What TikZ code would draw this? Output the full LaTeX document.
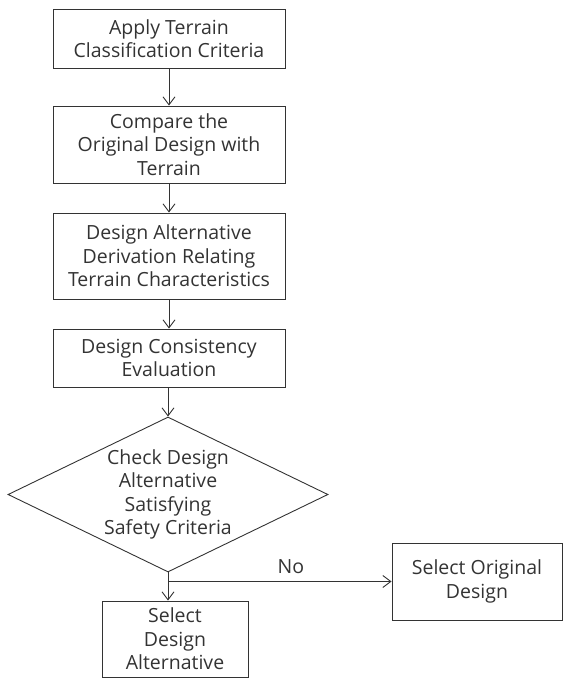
\documentclass[tikz,border=0pt]{standalone}
\usepackage{fontspec}
\setmainfont{Open Sans}
\usetikzlibrary{positioning,shapes,arrows.meta}

\begin{document}
\begin{tikzpicture}
		[x=1pt, y=-1pt, font=\fontsize{19.5}{23.5}\selectfont,
		procbox/.style={rectangle, draw=black!80, line width=0.9pt,
			align=center, inner sep=0pt, text=black!80, minimum width=232pt},
		decision/.style={diamond, draw=black!80, line width=0.9pt,
			minimum width=320pt, minimum height=155pt, inner sep=0pt},
		flow/.style={draw=black!80, line width=0.9pt,
			-{Straight Barb[length=8pt,width=12pt]}},
		]
		\useasboundingbox (0,0) rectangle (563,678);
		\node[procbox, minimum height=59pt] (crit) at (169,38.5) {Apply Terrain\\Classification Criteria};
		\node[procbox, minimum height=77pt] (comp) at (169,144.5) {Compare the\\Original Design with\\Terrain};
		\node[procbox, minimum height=86pt] (deriv) at (169,256) {Design Alternative\\Derivation Relating\\Terrain Characteristics};
		\node[procbox, minimum height=58pt] (eval) at (169,358) {Design Consistency\\Evaluation};
		\node[decision] (chk) at (168,494.5) {};
		\node[align=center, inner sep=0pt, text=black!80] (chktext) at (chk) {Check Design\\Alternative\\Satisfying\\Safety Criteria};
		\node[procbox, minimum width=146pt, minimum height=76pt] (alt) at (175,639) {Select\\Design\\Alternative};
		\node[procbox, minimum width=170pt, minimum height=77pt] (orig) at (477,581.5) {Select Original\\Design};
		
		\draw[flow] (crit) -- (comp);
		\draw[flow] (comp) -- (deriv);
		\draw[flow] (deriv) -- (eval);
		\draw[flow] (eval.south -| chk.north) -- (chk.north);
		\coordinate (split) at (chk.south |- orig.west);
		\draw[draw=black!80, line width=0.9pt] (chk.south) -- (split);
		\draw[flow] (split) -- (split |- alt.north);
		\draw[flow] (split) -- node[above=4pt, pos=0.55, text=black!80] {No} (orig.west);
		
	\end{tikzpicture}
\end{document}
